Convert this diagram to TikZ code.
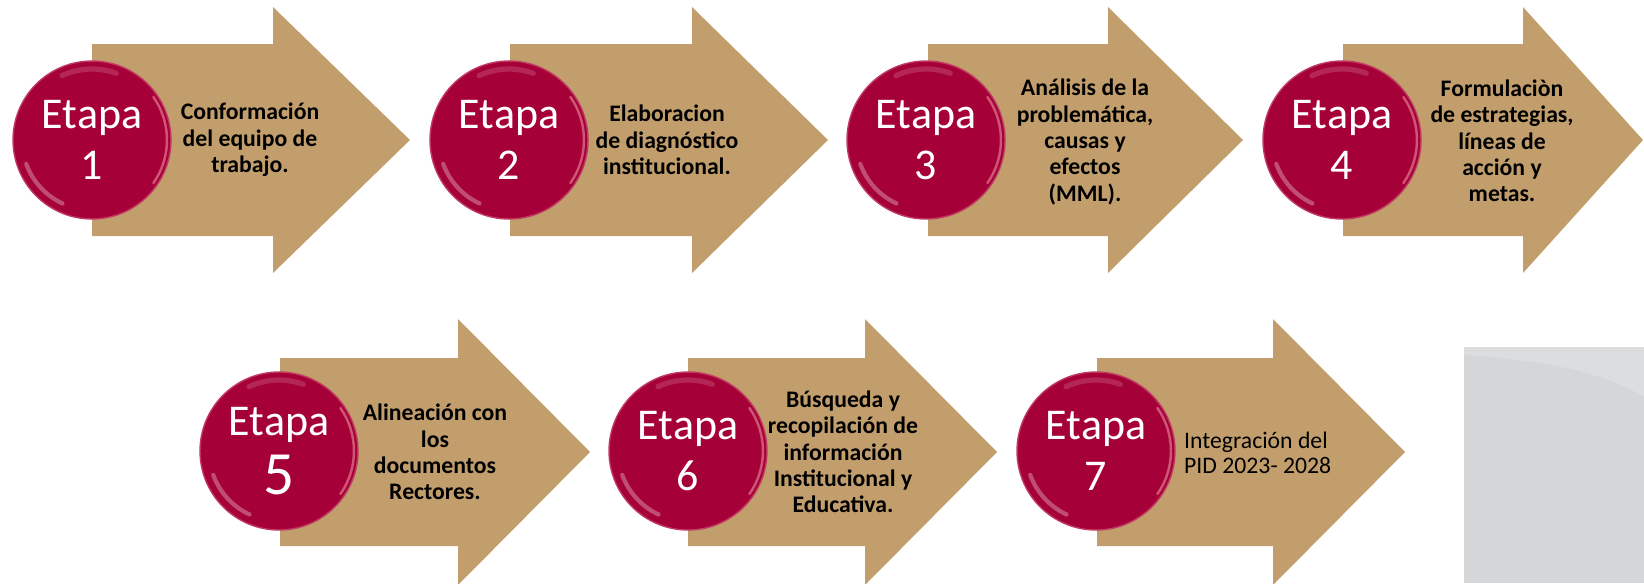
\documentclass[tikz,border=0pt]{standalone}
\usepackage{fontspec}
\setmainfont{Carlito}
\usetikzlibrary{positioning}
\definecolor{guinda}{RGB}{166,0,56}
\definecolor{dorado}{RGB}{194,158,108}
\definecolor{grisfondo}{RGB}{213,214,216}
\definecolor{grisclaro}{RGB}{220,221,223}
\tikzset{
    flecha/.style = {fill=dorado},
    fondo/.style = {fill=grisfondo},
    fondoc/.style = {fill=grisclaro},
    etapa/.style = {circle, fill=guinda, draw=guinda!70!pink, line width=0.8pt,
        minimum size=3.16cm, inner sep=0pt, align=center, text=white,
        font=\fontsize{25}{29}\selectfont,
        path picture={
            \draw[white,opacity=0.3,line width=2.4pt,line cap=round]
                ([shift={(200:1.4cm)}]path picture bounding box.center)
                arc[start angle=200, end angle=245, radius=1.4cm];
            \draw[pink,opacity=0.45,line width=1.4pt,line cap=round]
                ([shift={(-35:1.5cm)}]path picture bounding box.center)
                arc[start angle=-35, end angle=35, radius=1.5cm];
            \draw[white,opacity=0.15,line width=3pt,line cap=round]
                ([shift={(70:1.42cm)}]path picture bounding box.center)
                arc[start angle=70, end angle=115, radius=1.42cm];
        }},
    texto/.style = {align=center, text=black, font=\bfseries\fontsize{13.5}{15}\selectfont},
    textol/.style = {align=left, text=black, font=\fontsize{13.5}{14.2}\selectfont},
}

\begin{document}
\begin{tikzpicture}[x=0.02cm,y=-0.02cm]
\useasboundingbox (0,0) rectangle (1644,583);
%
% fondo gris
\fill[fondo] (1464,347) rectangle (1644,583);
\fill[fondoc] (1464,347) -- (1464,355) .. controls (1550,360) and (1610,375) .. (1644,397) -- (1644,347) -- cycle;
%
% flechas, primera fila
\fill[flecha] (92,44) -- (273,44) -- (273,7) -- (410,140) -- (273,273) -- (273,236) -- (92,236) -- cycle;
\fill[flecha] (510,44) -- (692,44) -- (692,7) -- (828,140) -- (692,273) -- (692,236) -- (510,236) -- cycle;
\fill[flecha] (928,44) -- (1108,44) -- (1108,7) -- (1243,140) -- (1108,273) -- (1108,236) -- (928,236) -- cycle;
\fill[flecha] (1343,44) -- (1523,44) -- (1523,7) -- (1643,140) -- (1523,273) -- (1523,236) -- (1343,236) -- cycle;
% flechas, segunda fila
\fill[flecha] (280,358) -- (458,358) -- (458,319) -- (590,452) -- (458,585) -- (458,546) -- (280,546) -- cycle;
\fill[flecha] (688,358) -- (865,358) -- (865,319) -- (997,452) -- (865,585) -- (865,546) -- (688,546) -- cycle;
\fill[flecha] (1097,358) -- (1273,358) -- (1273,319) -- (1405,452) -- (1273,585) -- (1273,546) -- (1097,546) -- cycle;
%
\node[etapa] at (92, 140) (e1) {Etapa\\1};
\node[etapa] at (509, 140) (e2) {Etapa\\2};
\node[etapa] at (926, 140) (e3) {Etapa\\3};
\node[etapa] at (1342, 140) (e4) {Etapa\\4};
\node[etapa] at (279, 451) (e5) {Etapa\\[5pt]{\fontsize{35}{35}\selectfont 5}};
\node[etapa] at (688, 451) (e6) {Etapa\\6};
\node[etapa] at (1096, 451) (e7) {Etapa\\7};
%
\node[texto] at (250, 140) (t1) {Conformación\\del equipo de\\trabajo.};
\node[texto] at (667, 140) (t2) {Elaboracion\\de diagnóstico\\institucional.};
\node[texto] at (1085, 142) (t3) {Análisis de la\\problemática,\\causas y\\efectos\\(MML).};
\node[texto] at (1502, 141) (t4) {Formulaciòn\\de estrategias,\\líneas de\\acción y\\metas.};
\node[texto] at (435, 452) (t5) {Alineación con\\los\\documentos\\Rectores.};
\node[texto] at (843, 452) (t6) {Búsqueda y\\recopilación de\\información\\Institucional y\\Educativa.};
\node[textol, anchor=west] at (1178, 453) (t7) {Integración del\\PID 2023- 2028};

\end{tikzpicture}
\end{document}
